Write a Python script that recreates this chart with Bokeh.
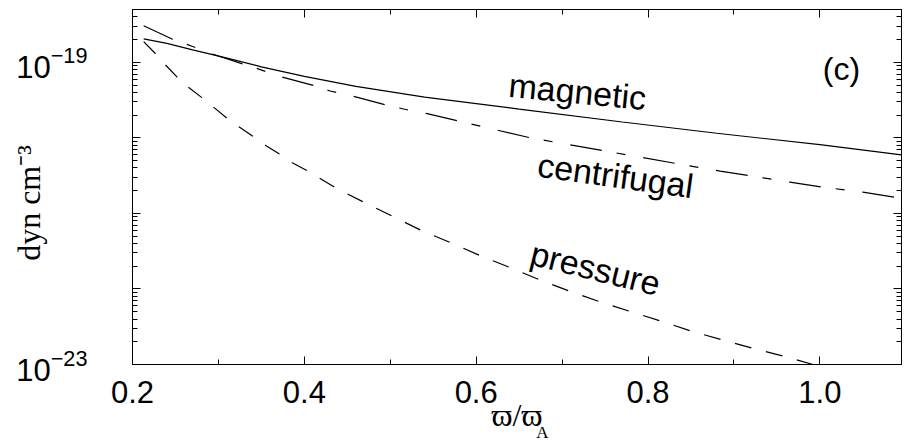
import math
from bokeh.plotting import figure
from bokeh.models import Range1d, FixedTicker, LogAxis, LinearAxis, Label
from bokeh.embed import file_html
from bokeh.resources import INLINE

# ---- data ----
mag_x = [0.213, 0.24, 0.27, 0.31, 0.35, 0.40, 0.46, 0.54, 0.65, 0.77, 0.88, 1.00, 1.095]
mag_y = [2.04e-19, 1.78e-19, 1.46e-19, 1.135e-19, 8.71e-20, 6.53e-20, 4.79e-20,
         3.47e-20, 2.40e-20, 1.62e-20, 1.15e-20, 8.13e-21, 5.96e-21]

cen_x = [0.213, 0.246, 0.27, 0.293, 0.328, 0.347, 0.374, 0.411, 0.43, 0.457, 0.494,
         0.524, 0.543, 0.663, 0.748, 0.833, 0.884, 0.934, 0.965, 1.002, 1.05, 1.095]
cen_y = [3.04e-19, 2.03e-19, 1.62e-19, 1.29e-19, 9.55e-20, 8.13e-20, 6.37e-20,
         4.93e-20, 4.17e-20, 3.55e-20, 2.75e-20, 2.29e-20, 2.09e-20, 1.0e-20,
         6.76e-21, 4.57e-21, 3.63e-21, 2.95e-21, 2.60e-21, 2.24e-21, 1.91e-21, 1.58e-21]

pre_x = [0.213, 0.227, 0.238, 0.252, 0.265, 0.281, 0.295, 0.31, 0.326, 0.34, 0.355,
         0.372, 0.386, 0.404, 0.436, 0.469, 0.503, 0.537, 0.571, 0.605, 0.64, 0.674,
         0.709, 0.744, 0.78, 0.816, 0.851, 0.888, 0.924, 0.961, 0.992, 1.005]
pre_y = [1.88e-19, 1.29e-19, 9.33e-20, 6.37e-20, 4.68e-20, 3.39e-20, 2.51e-20,
         1.82e-20, 1.35e-20, 1.05e-20, 7.94e-21, 6.03e-21, 4.68e-21, 3.63e-21,
         2.19e-21, 1.41e-21, 9.12e-22, 5.89e-22, 4.07e-22, 2.75e-22, 1.91e-22,
         1.32e-22, 9.33e-23, 6.76e-23, 5.01e-23, 3.72e-23, 2.75e-23, 2.09e-23,
         1.62e-23, 1.26e-23, 1.0e-23, 8.9e-24]

x_major = [0.2, 0.4, 0.6, 0.8, 1.0]
x_minor = [0.3, 0.5, 0.7, 0.9]
y_exps = [-23, -22, -21, -20, -19]
y_labeled = [-23, -19]

y_title = "dyn cm\u207b\u00b3"
x_title = "\u03d6/\u03d6"
x_title_sub = "A"

SANS = "Liberation Sans"
SERIF = "Liberation Serif"

y_major = [10.0 ** e for e in y_exps]
y_minor = [k * 10.0 ** e for e in y_exps for k in range(2, 10)]

p = figure(frame_width=769, frame_height=355, y_axis_type="log",
           x_range=Range1d(0.2, 1.095), y_range=Range1d(1e-23, 5e-19),
           output_backend="svg", toolbar_location=None,
           min_border_left=132, min_border_right=4, min_border_top=9,
           min_border_bottom=76, background_fill_color="white",
           border_fill_color="white")
p.grid.visible = False
p.outline_line_color = "black"
p.outline_line_width = 1

xt = FixedTicker(ticks=x_major, minor_ticks=x_minor)
yt = FixedTicker(ticks=y_major, minor_ticks=y_minor)


def style(ax, labels):
    ax.axis_line_color = "black"
    ax.major_tick_line_color = "black"
    ax.minor_tick_line_color = "black"
    ax.major_tick_in = 8
    ax.major_tick_out = 0
    ax.minor_tick_in = 5
    ax.minor_tick_out = 0
    if not labels:
        ax.major_label_text_font_size = "1px"
        ax.major_label_text_color = None
        ax.major_label_standoff = 0


def bare(ax):
    ax.axis_line_color = None
    ax.major_tick_line_color = None
    ax.minor_tick_line_color = None
    ax.major_tick_in = 0
    ax.major_tick_out = 0
    ax.minor_tick_in = 0
    ax.minor_tick_out = 0
    ax.axis_label_text_font_style = "normal"
    ax.axis_label_text_color = "black"


# bottom axis: ticks, tick labels and (as its title) the subscript of the x title
xa = p.xaxis[0]
xa.ticker = xt
style(xa, True)
xa.major_label_text_font = SANS
xa.major_label_text_font_size = "31px"
xa.major_label_text_color = "black"
xa.major_label_standoff = 16
xa.major_label_overrides = {v: f"{v:.1f}" for v in x_major}
xa.axis_label = "\u2007" * 6 + x_title_sub
xa.axis_label_text_font = SERIF
xa.axis_label_text_font_size = "17px"
xa.axis_label_text_font_style = "normal"
xa.axis_label_text_color = "black"
xa.axis_label_standoff = 17

# second bottom axis carrying the main x title, pulled back up
xs = LinearAxis(ticker=FixedTicker(ticks=[], minor_ticks=[]))
bare(xs)
xs.major_label_text_font_size = "1px"
xs.major_label_standoff = 0
xs.axis_label = x_title
xs.axis_label_text_font = SERIF
xs.axis_label_text_font_size = "32px"
xs.axis_label_standoff = -48
p.add_layout(xs, "below")

# left axis: ticks only
ya = p.yaxis[0]
ya.ticker = yt
style(ya, False)

# left axis: labels 10^-23, 10^-19 and the y title
yl = LogAxis(ticker=FixedTicker(ticks=[10.0 ** e for e in y_labeled], minor_ticks=[]))
bare(yl)
yl.major_label_text_font = SANS
yl.major_label_text_font_size = "31px"
yl.major_label_text_color = "black"
yl.major_label_standoff = 45
yl.axis_label = y_title + "\u2007\u2007"
yl.axis_label_text_font = SERIF
yl.axis_label_text_font_size = "32px"
yl.axis_label_standoff = -34
p.add_layout(yl, "left")

top = LinearAxis(ticker=xt)
style(top, False)
p.add_layout(top, "above")
right = LogAxis(ticker=yt)
style(right, False)
p.add_layout(right, "right")

p.line(mag_x, mag_y, line_color="black", line_width=1.2)
p.line(cen_x, cen_y, line_color="black", line_width=1.2, line_dash="32 15 9 18")
p.line(pre_x, pre_y, line_color="black", line_width=1.2, line_dash="17 15")

# curve annotations (inside the frame)
ann = [("magnetic", 445, 273, -0.0977, "34px"), ("centrifugal", 483, 189, -0.139, "34px"),
       ("pressure", 463, 96, -0.242, "34px"), ("(c)", 709, 295.5, 0.0, "32px")]
for t, ax_, ay_, ang, fs in ann:
    p.add_layout(Label(x=ax_, y=ay_, x_units="screen", y_units="screen", angle=ang,
                       text=t, text_font=SANS, text_font_size=fs, text_color="black",
                       text_align="center", text_baseline="middle"))

open("out.html", "w").write(file_html(p, INLINE))
